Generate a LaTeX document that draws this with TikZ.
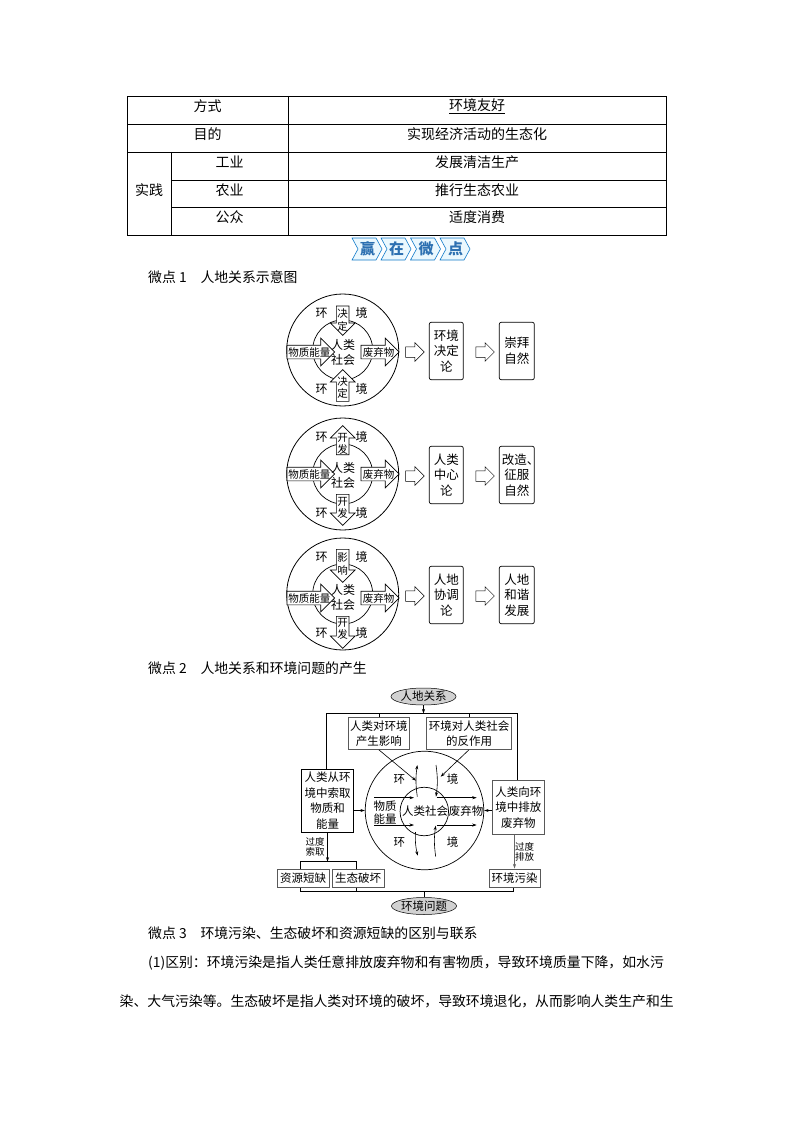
\documentclass[tikz,border=0pt]{standalone}
\usepackage{fontspec}
\setmainfont{Noto Sans CJK SC}
\usetikzlibrary{arrows.meta}
\usetikzlibrary{shapes.arrows}
\usetikzlibrary{shapes.geometric}

\tikzset{
    cell/.style={inner sep=0pt,font=\fontsize{14}{16}\selectfont},
    bodytext/.style={anchor=west,inner sep=0pt,font=\fontsize{13.85}{16}\selectfont},
    ringtext/.style={inner sep=0pt,align=center,font=\fontsize{12}{15}\selectfont},
    arrowtext/.style={inner sep=0pt,align=center,font=\fontsize{10.5}{12.5}\selectfont},
    blockarrow/.style={single arrow,draw,fill=white,line width=0.7pt,inner xsep=0pt,inner ysep=6pt,single arrow head extend=6pt,single arrow head indent=0pt,anchor=tail},
    wideblock/.style={blockarrow,inner ysep=6.5pt,single arrow head extend=7pt},
    hollowarrow/.style={single arrow,draw,line width=0.5pt,inner xsep=0pt,inner ysep=5pt,minimum height=18.5pt,single arrow head extend=4pt,single arrow head indent=0pt},
    roundbox/.style={draw,rounded corners=2pt,line width=0.7pt,inner sep=0pt,minimum height=57.5pt,align=center,font=\fontsize{12.5}{15.5}\selectfont},
    graybox/.style={draw=black!65,line width=0.9pt,inner sep=0pt,align=center,font=\fontsize{11.5}{15}\selectfont},
    oval/.style={ellipse,draw,fill=black!18,line width=0.5pt,inner sep=0pt,minimum width=52pt,minimum height=17pt,font=\fontsize{11.5}{14}\selectfont},
    small/.style={inner sep=0pt,align=center,font=\fontsize{9.5}{10.5}\selectfont},
    line/.style={line width=0.6pt},
    arr/.style={line width=0.6pt,-{Stealth[length=4.5pt,width=3pt]}}
}

\begin{document}
\begin{tikzpicture}[x=1pt,y=-1pt]

    \path[fill=white,use as bounding box] (0,0) rectangle (794,1123);

    % table frame and rules
    \draw[line width=0.7pt] (127,96) rectangle (666,235);
    \draw[line width=0.7pt] (127,124) -- (666,124);
    \draw[line width=0.7pt] (127,152) -- (666,152);
    \draw[line width=0.7pt] (171,180) -- (666,180);
    \draw[line width=0.7pt] (171,207) -- (666,207);
    \draw[line width=0.7pt] (288,96) -- (288,235);
    \draw[line width=0.7pt] (171,152) -- (171,235);

    % table texts
    \foreach \n/\x/\y/\t in {a/207.5/106/方式,b/477/106/\underline{环境友好},c/207.5/134/目的,d/477/134/实现经济活动的生态化,
        e/149/190/实践,f/229.5/162/工业,g/477/162/发展清洁生产,h/229.5/190/农业,i/477/190/推行生态农业,j/229.5/217/公众,k/477/217/适度消费}
        \node[cell] (cell-\n) at (\x,\y) {\t};

    % banner
    \foreach \n/\x/\t in {a/352/赢,b/381/在,c/410.5/微,d/440/点} {
        \draw[draw=cyan!60!blue,fill=cyan!8,line width=0.6pt] (\x,238) -- (\x+24,238) -- (\x+30,249) -- (\x+24,260) -- (\x,260) -- (\x+6,249) -- cycle;
        \node[inner sep=0pt,text=cyan!55!blue!85!black,font=\fontsize{15}{16}\selectfont\bfseries] (banner-\n) at (\x+15.5,249) {\t};
    }

    % headings and running text
    \node[bodytext] (headone) at (148,277) {微点 1\hspace{1em}人地关系示意图};
    \node[bodytext] (headtwo) at (148,668) {微点 2\hspace{1em}人地关系和环境问题的产生};
    \node[bodytext] (headthree) at (148,933) {微点 3\hspace{1em}环境污染、生态破坏和资源短缺的区别与联系};
    \node[bodytext] (parone) at (148,963) {(1)区别：环境污染是指人类任意排放废弃物和有害物质，导致环境质量下降，如水污};
    \node[bodytext] (partwo) at (119.5,1001) {染、大气污染等。生态破坏是指人类对环境的破坏，导致环境退化，从而影响人类生产和生};

    % the three ring diagrams
    \foreach \n/\cy/\tt/\tr/\tl/\tx/\bt/\br/\bl/\bx/\by/\my/\bxa/\bxb in {
        p/350/-44.3/-90/29.3/{决\\定}/51.7/90/31.7/{决\\定}/37.5/2/{环境\\决定\\论}/{崇拜\\自然},
        q/474/-19/90/29/{开\\发}/20/-90/31/{开\\发}/34/0/{人类\\中心\\论}/{改造\makebox[0.4em][l]{、}\\征服\\自然},
        r/594/-45/-90/33/{影\\响}/22/-90/32/{开\\发}/35/4/{人地\\协调\\论}/{人地\\和谐\\发展}} {
    \begin{scope}[shift={(0,\cy)}]
        \node[circle,draw,line width=0.8pt,minimum size=112pt,inner sep=0pt] (\n-outer) at (342.7,0) {};
        \node[circle,draw,line width=0.7pt,minimum size=60pt,inner sep=0pt] (\n-inner) at (342.7,0) {};
        \node[blockarrow,rotate=\tr,minimum height=\tl pt] (\n-top) at (342.7,\tt) {};
        \node[blockarrow,rotate=\br,minimum height=\bl pt] (\n-bot) at (342.7,\bt) {};
        \node[wideblock,minimum height=47.5pt] (\n-left) at (286.7,\my) {};
        \node[wideblock,minimum height=38pt] (\n-right) at (360.7,\my) {};
        \node[arrowtext] (\n-toptext) at (342.7,-30) {\tx};
        \node[arrowtext] (\n-bottext) at (342.7,\by) {\bx};
        \node[arrowtext] (\n-lefttext) at (309.3,\my) {物质能量};
        \node[arrowtext] (\n-righttext) at (378.5,\my) {废弃物};
        \node[ringtext] (\n-mid) at (343,\my/2+1) {人类\\社会};
        \node[ringtext] (\n-hl) at (321.7,-37) {环};
        \node[ringtext] (\n-hr) at (361.7,-37) {境};
        \node[ringtext] (\n-ll) at (321.7,39) {环};
        \node[ringtext] (\n-lr) at (361.7,39) {境};
        \node[hollowarrow] (\n-fat) at (412.3,2) {};
        \node[roundbox,minimum width=34pt] (\n-boxa) at (446.3,1) {\bxa};
        \node[hollowarrow] (\n-fatb) at (482.5,2) {};
        \node[roundbox,minimum width=35pt] (\n-boxb) at (516.8,1) {\bxb};
    \end{scope}
    }

    % ovals and boxes of the lower diagram
    \node[oval] (rel) at (423.5,696.5) {人地关系};
    \node[oval] (prob) at (424,906) {环境问题};
    \node[graybox,minimum width=61pt,minimum height=31.6pt] (affect) at (378.8,733.5) {人类对环境\\产生影响};
    \node[graybox,minimum width=84.6pt,minimum height=31.6pt] (react) at (469,733.5) {环境对人类社会\\的反作用};
    \node[graybox,draw=black,line width=0.7pt,minimum width=51.6pt,minimum height=63pt,font=\fontsize{11.5}{15.5}\selectfont] (take) at (327.5,800.8) {人类从环\\境中索取\\物质和\\能量};
    \node[graybox,minimum width=51.3pt,minimum height=54.3pt,font=\fontsize{11.5}{15.5}\selectfont] (emit) at (518.3,807.2) {人类向环\\境中排放\\废弃物};
    \node[graybox,minimum width=51.7pt,minimum height=18.7pt] (lack) at (303.2,878.3) {资源短缺};
    \node[graybox,minimum width=51.7pt,minimum height=18.7pt] (eco) at (358.2,878.3) {生态破坏};
    \node[graybox,minimum width=51pt,minimum height=18.7pt] (pollute) at (514.5,878.3) {环境污染};
    \node[circle,draw,line width=0.7pt,minimum size=118.5pt,inner sep=0pt] (world) at (424.5,810.5) {};
    \node[circle,draw,line width=0.7pt,minimum size=48.5pt,inner sep=0pt] (soc) at (424.3,811.5) {};

    % named line ends
    \coordinate (busl) at (326.7,713.5);
    \coordinate (busr) at (517.7,713.5);
    \coordinate (busm) at (423.5,713.5);
    \coordinate (busa) at (378.8,713.5);
    \coordinate (busb) at (469,713.5);
    \coordinate (takein) at (326.7,769.3);
    \coordinate (emitin) at (517.7,780);
    \coordinate (affectend) at (416,780.7);
    \coordinate (reactend) at (440.7,776.7);
    \coordinate (brl) at (300,861.7);
    \coordinate (brr) at (356.7,861.7);
    \coordinate (brm) at (327.5,861.7);
    \coordinate (lowl) at (300,891.7);
    \coordinate (lowm) at (356.7,891.7);
    \coordinate (lowr) at (513.3,891.7);
    \coordinate (lowc) at (424,891.7);

    % connectors at the top
    \draw[arr] (rel.south) -- (busm);
    \draw[line] (takein) -- (busl) -- (busr) -- (emitin);
    \draw[line] (busa) -- (affect.north);
    \draw[line] (busb) -- (react.north);
    \draw[arr] (affect.south) -- (affectend);
    \draw[arr] (react.south) -- (reactend);

    % connectors into the big ring
    \draw[arr] (world.west -| take.east) -- (world.west);
    \draw[arr] (world.east -| emit.west) -- (world.east);

    % connectors at the bottom
    \draw[arr] (take.south) -- (brm);
    \draw[line] (lack.north -| brl) -- (brl) -- (brr) -- (eco.north -| brr);
    \draw[arr,draw=black!60] (emit.south -| pollute.north) -- (pollute.north);
    \draw[line] (lack.south -| lowl) -- (lowl) -- (lowr) -- (pollute.south -| lowr);
    \draw[line] (eco.south -| lowm) -- (lowm);
    \draw[line] (lowc) -- (prob.north);

    % arrows inside the big ring
    \foreach \n/\ax/\ay/\bx/\by in {ml/374/797.7/414/797.7,nl/374/825/414/825,mr/436.7/797.7/476.7/797.7,nr/436.7/825/476.7/825} {
        \coordinate (\n-s) at (\ax,\ay);
        \coordinate (\n-e) at (\bx,\by);
        \draw[arr] (\n-s) -- (\n-e);
    }
    \foreach \n/\ax/\ay/\bx/\by/\bend in {ua/417.3/796.7/417.3/765/left,ub/436/765/436/796.7/left,ua2/415.5/832/417.7/855.7/right,ub2/435.7/856.7/435.7/825.7/left} {
        \coordinate (\n-s) at (\ax,\ay);
        \coordinate (\n-e) at (\bx,\by);
        \draw[arr] (\n-s) to[bend \bend=8] (\n-e);
    }

    % texts of the lower diagram
    \node[ringtext,font=\fontsize{11.5}{13.5}\selectfont] (matter) at (385,812.5) {物质\\能量};
    \node[ringtext,font=\fontsize{11.5}{13.5}\selectfont] (human) at (425,811) {人类社会};
    \node[ringtext,font=\fontsize{11.5}{13.5}\selectfont] (waste) at (466,811) {废弃物};
    \node[ringtext,font=\fontsize{11.5}{13.5}\selectfont] (hl) at (399.3,779) {环};
    \node[ringtext,font=\fontsize{11.5}{13.5}\selectfont] (hr) at (452.7,779) {境};
    \node[ringtext,font=\fontsize{11.5}{13.5}\selectfont] (ll) at (399.3,842.5) {环};
    \node[ringtext,font=\fontsize{11.5}{13.5}\selectfont] (lr) at (452.7,842.5) {境};
    \node[small] (overtake) at (315,846.7) {过度\\索取};
    \node[small] (overemit) at (524.5,851.7) {过度\\排放};

\end{tikzpicture}
\end{document}
